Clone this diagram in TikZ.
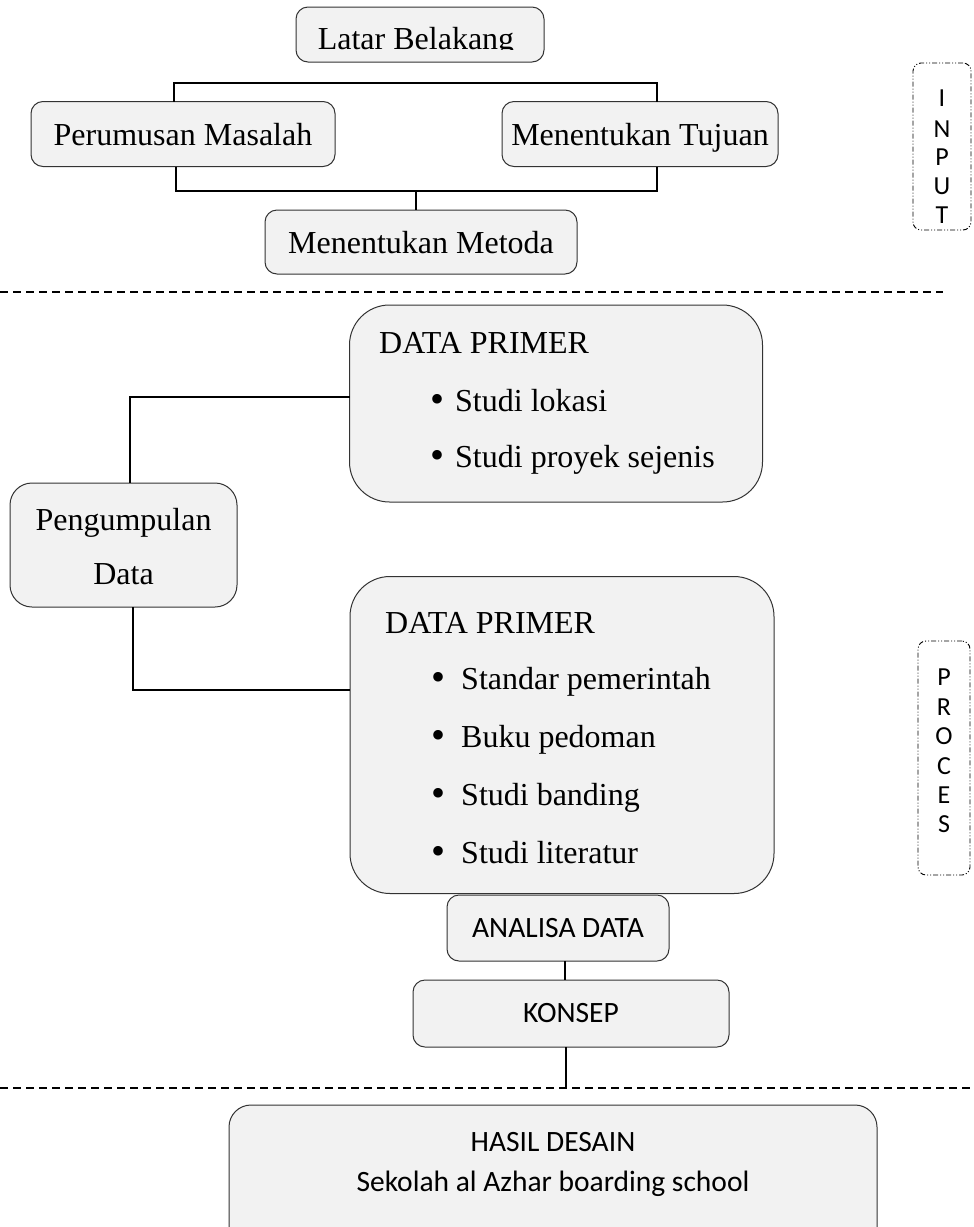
\documentclass[tikz,border=0pt]{standalone}
\usepackage{fontspec}
\usepackage{graphicx}
\setmainfont{Liberation Serif}
\newfontfamily\calib{Carlito}
\newcommand{\bul}{\raisebox{-0.04em}{\scalebox{1.25}{\textbullet}}}
\begin{document}
\begin{tikzpicture}[x=1pt,y=-1pt,
  box/.style={draw=black!80, fill=black!5, rounded corners=12pt, line width=1pt, inner sep=0pt},
  bigbox/.style={box, rounded corners=40pt},
  conn/.style={line width=1.5pt, black},
  sep/.style={dash pattern=on 8pt off 5pt, line width=1.4pt},
  side/.style={draw, rounded corners=8pt, line width=0.9pt, dash pattern=on 5pt off 2pt on 1pt off 2pt on 1pt off 2pt},
  tt/.style={font=\fontsize{32}{38}\selectfont, inner sep=0pt},
  st/.style={font=\calib\fontsize{29.5}{35}\selectfont, inner sep=0pt},
  lt/.style={font=\calib\fontsize{26}{30}\selectfont, inner sep=0pt}]
\useasboundingbox (0,0) rectangle (974,1227);

% boxes
\node[box, minimum width=248pt, minimum height=55pt] (lb) at (420,34.5) {};
\node[box, minimum width=304pt, minimum height=65pt] (pm) at (183,134) {};
\node[box, minimum width=276pt, minimum height=65pt] (mt) at (640,134) {};
\node[box, minimum width=312pt, minimum height=64pt] (mm) at (421,242) {};
\node[bigbox, minimum width=413pt, minimum height=197pt] (dp1) at (556,403.5) {};
\node[box, rounded corners=22pt, minimum width=227pt, minimum height=124pt] (pd) at (123.5,545) {};
\node[bigbox, minimum width=424pt, minimum height=317pt] (dp2) at (562,735) {};
\node[box, minimum width=222pt, minimum height=66pt] (an) at (558,928) {};
\node[box, minimum width=316pt, minimum height=67pt] (ko) at (571,1013.5) {};
\node[box, rounded corners=22pt, minimum width=648pt, minimum height=150pt] (hd) at (553,1180) {};
\node[side, minimum width=58pt, minimum height=167pt] (inp) at (942,146.5) {};
\node[side, minimum width=52pt, minimum height=234pt] (pro) at (944,758) {};

% texts
\begin{scope}
\clip (297,7) rectangle (544,49.5);
\node[tt, anchor=base] (lbt) at (416,49) {Latar Belakang};
\end{scope}
\node[tt, anchor=base] (pmt) at (183,145) {Perumusan Masalah};
\node[tt, anchor=base] (mtt) at (640,145) {Menentukan Tujuan};
\node[tt, anchor=base] (mmt) at (421,253) {Menentukan Metoda};

\node[tt, anchor=base west] (d1t) at (379,353) {DATA PRIMER};
\node[tt, anchor=base west] (d1a) at (430,411) {\bul\hspace{11pt}Studi lokasi};
\node[tt, anchor=base west] (d1b) at (430,467) {\bul\hspace{11pt}Studi proyek sejenis};

\node[tt, anchor=base] (pdt1) at (123.5,530) {Pengumpulan};
\node[tt, anchor=base] (pdt2) at (123.5,584) {Data};

\node[tt, anchor=base west] (d2t) at (385,633) {DATA PRIMER};
\node[tt, anchor=base west] (d2a) at (431,689) {\bul\hspace{16pt}Standar pemerintah};
\node[tt, anchor=base west] (d2b) at (431,747) {\bul\hspace{16pt}Buku pedoman};
\node[tt, anchor=base west] (d2c) at (431,805) {\bul\hspace{16pt}Studi banding};
\node[tt, anchor=base west] (d2d) at (431,863) {\bul\hspace{16pt}Studi literatur};

\node[st] (ant) at (558,928) {ANALISA DATA};
\node[st] (kot) at (571,1013) {KONSEP};
\node[st, anchor=base] (hd1) at (553,1151) {HASIL DESAIN};
\node[st, anchor=base] (hd2) at (553,1191) {Sekolah al Azhar boarding school};

\foreach \l/\y [count=\i] in {I/98,N/129,P/157,U/186,T/215}
  \node[lt] (in\i) at (942,\y) {\l};
\foreach \l/\y [count=\i] in {P/677,R/707,O/736,C/766,E/795,S/824}
  \node[lt] (pr\i) at (944,\y) {\l};

% junction coordinates
\coordinate (j1) at (415,83);
\coordinate (pmn) at (174,101.5);
\coordinate (mtn) at (657,101.5);
\coordinate (pms) at (176,166.5);
\coordinate (mts) at (657,166.5);
\coordinate (j2) at (416,191);
\coordinate (d1w) at (349.5,397);
\coordinate (pdn) at (130,483);
\coordinate (pds) at (133,607);
\coordinate (d2w) at (350,690);
\coordinate (ans) at (565,961);
\coordinate (kon) at (565,980);
\coordinate (kos) at (566,1047);
\coordinate (kod) at (566,1087);
\coordinate (s1a) at (0,292);
\coordinate (s1b) at (943,292);
\coordinate (s2a) at (0,1088);
\coordinate (s2b) at (974,1088);

% connectors
\draw[line width=0.8pt, double, double distance=1.2pt] (lb.south -| j1) -- (j1);
\draw[conn] (pmn) |- (j1) -| (mtn);
\draw[conn] (pms) |- (j2) -| (mts);
\draw[conn] (j2) -- (mm.north -| j2);
\draw[conn] (d1w) -| (pdn);
\draw[conn] (pds) |- (d2w);
\draw[conn] (ans) -- (kon);
\draw[conn] (kos) -- (kod);

% separators
\draw[sep] (s1a) -- (s1b);
\draw[sep] (s2a) -- (s2b);
\end{tikzpicture}
\end{document}
